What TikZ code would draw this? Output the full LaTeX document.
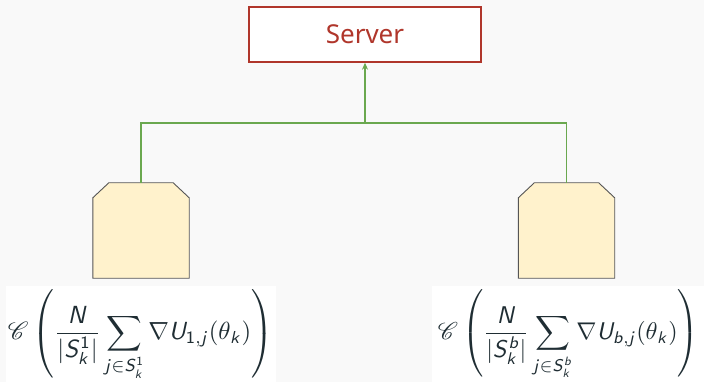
\documentclass[tikz,border=0pt]{standalone}
\usepackage[no-math]{fontspec}
\setmainfont{Noto Sans}
\usepackage{mathrsfs}
\DeclareMathAlphabet{\msl}{OT1}{cmss}{m}{sl}
\DeclareMathAlphabet{\msf}{OT1}{cmss}{m}{n}
\usetikzlibrary{arrows.meta}
\definecolor{bg}{HTML}{F9F9F9}
\definecolor{srvred}{HTML}{B0362B}
\definecolor{lnkgreen}{HTML}{6AA84F}
\definecolor{clfill}{HTML}{FFF2CC}
\definecolor{clborder}{HTML}{555555}
\definecolor{mathink}{HTML}{1F2D33}
\newcommand{\gradone}{\resizebox{265pt}{!}{$\displaystyle \mathscr{C}\left(\frac{\msl{N}}{|\msl{S}_{\msl{k}}^{\msf{1}}|}\sum_{\msl{j}\in \msl{S}_{\msl{k}}^{\msf{1}}}\nabla \msl{U}_{\msf{1},\msl{j}}(\theta_{\msl{k}})\right)$}}
\newcommand{\gradb}{\resizebox{261pt}{!}{$\displaystyle \mathscr{C}\left(\frac{\msl{N}}{|\msl{S}_{\msl{k}}^{\msl{b}}|}\sum_{\msl{j}\in \msl{S}_{\msl{k}}^{\msl{b}}}\nabla \msl{U}_{\msl{b},\msl{j}}(\theta_{\msl{k}})\right)$}}
\tikzset{
  serverbox/.style={draw=srvred, line width=1.4pt, fill=white, minimum width=232pt, minimum height=55pt, inner sep=0pt, text=srvred, font=\fontsize{26}{30}\selectfont},
  clientbox/.style={draw=none, minimum width=96pt, minimum height=95pt, inner sep=0pt},
  clientshape/.style={draw=clborder, line width=0.9pt, fill=clfill},
  link/.style={draw=lnkgreen, line width=1.4pt},
  formbox/.style={fill=white, draw=none},
  mathlabel/.style={inner sep=0pt, text=mathink}
}
\newcommand{\chamferbox}[1]{%
  \draw[clientshape] (#1.south west) -- ([yshift=-15pt]#1.north west) -- ([xshift=16pt]#1.north west)
    -- ([xshift=-16pt]#1.north east) -- ([yshift=-15pt]#1.north east) -- (#1.south east) -- cycle;}
\begin{document}
\begin{tikzpicture}[x=1pt,y=-1pt]
\fill[bg] (0,0) rectangle (704,382);
\useasboundingbox (0,0) rectangle (704,382);
\clip (0,0) rectangle (704,382);
\node[serverbox] (server) at (365,34.5) {Server};
\node[clientbox] (c1) at (141,230.5) {};
\node[clientbox] (c2) at (566.5,230.5) {};
\chamferbox{c1}
\chamferbox{c2}
\coordinate (j) at (server.south |- 0,123);
\draw[link] (c1.north) |- (j) -| (c2.north);
\draw[link,-{Stealth[length=7pt,width=6pt]}] (j) -- (server.south);
\fill[formbox] (6,286) rectangle (276,390);
\fill[formbox] (432,286) rectangle (710,390);
\node[mathlabel] (f1) at (140.5,335) {\gradone};
\node[mathlabel] (f2) at (568.5,335) {\gradb};
\end{tikzpicture}
\end{document}
